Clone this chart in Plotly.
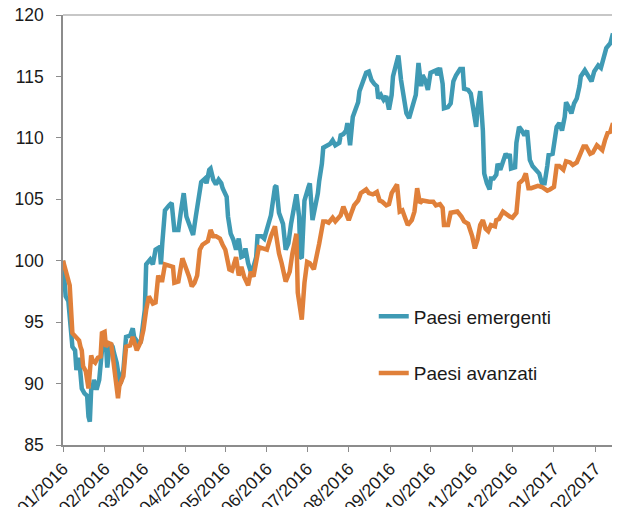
import pandas as pd
import plotly.graph_objects as go

start = pd.Timestamp("2016-01-01")

# days since 01/01/2016 and index level (base 100)
days_em = [0, 2, 4, 6, 7, 9, 10, 12, 13, 14,
           16, 18, 19, 20, 21, 22, 23, 25, 27, 28,
           30, 32, 33, 35, 37, 38, 40, 42, 43, 45,
           47, 50, 52, 53, 56, 58, 61, 62, 65, 67,
           69, 72, 73, 74, 76, 79, 81, 83, 86, 88,
           90, 92, 94, 96, 97, 99, 101, 103, 106, 107,
           109, 110, 112, 114, 116, 118, 119, 122, 123, 125,
           127, 129, 131, 133, 135, 136, 138, 140, 142, 144,
           145, 148, 150, 153, 155, 158, 159, 161, 164, 166,
           168, 170, 174, 176, 177, 178, 180, 183, 184, 186,
           188, 190, 191, 193, 194, 197, 199, 201, 203, 206,
           207, 209, 211, 212, 213, 214, 216, 218, 220, 221,
           223, 226, 228, 230, 232, 234, 235, 237, 239, 241,
           243, 245, 246, 249, 250, 252, 254, 256, 258, 260,
           263, 265, 266, 267, 268, 270, 272, 274, 276, 278,
           279, 281, 283, 284, 287, 289, 291, 293, 296, 298,
           299, 302, 304, 306, 308, 309, 311, 313, 314, 316,
           318, 319, 321, 323, 324, 326, 328, 330, 332, 333,
           334, 337, 338, 340, 342, 344, 346, 347, 348, 350,
           353, 355, 357, 359, 361, 362, 365, 366, 368, 370,
           372, 374, 375, 377, 379, 381, 383, 385, 386, 389,
           391, 394, 396, 399, 401, 403, 405, 408, 410]
emergenti = [100.0, 97.1, 96.7, 93.3, 93.0, 92.7, 91.1, 92.1, 91.1, 89.6,
             89.2, 89.0, 87.3, 86.9, 89.5, 89.6, 90.3, 89.5, 90.3, 91.3,
             93.8, 93.3, 91.3, 93.3, 93.0, 92.5, 91.7, 90.3, 90.0, 91.1,
             93.8, 93.9, 94.5, 93.8, 93.3, 93.4, 96.0, 99.7, 100.1, 99.7,
             100.9, 101.1, 99.7, 101.4, 104.1, 104.5, 104.7, 102.5, 102.5, 104.1,
             105.5, 103.6, 103.0, 102.3, 102.1, 103.6, 104.9, 106.4, 106.7, 106.3,
             107.4, 107.5, 106.6, 106.2, 106.6, 106.3, 105.9, 105.2, 103.6, 102.2,
             101.7, 100.9, 101.8, 100.3, 100.4, 101.0, 99.8, 99.1, 99.5, 100.3,
             102.0, 102.0, 101.8, 103.0, 103.7, 106.0, 106.1, 103.9, 103.0, 100.9,
             101.4, 103.0, 105.4, 103.6, 100.3, 100.2, 104.9, 106.0, 106.3, 103.3,
             104.3, 105.5, 106.5, 107.9, 109.2, 109.4, 109.5, 109.8, 109.4, 109.6,
             110.2, 110.3, 110.6, 111.2, 110.3, 109.4, 111.7, 112.3, 112.9, 113.8,
             114.4, 115.3, 115.4, 114.7, 114.4, 114.2, 113.2, 113.5, 113.1, 113.4,
             112.3, 113.5, 115.0, 116.6, 116.7, 114.7, 113.1, 112.0, 111.6, 112.5,
             113.5, 116.1, 115.3, 114.2, 115.1, 114.7, 113.9, 115.3, 115.4, 115.5,
             115.1, 115.7, 114.4, 112.4, 112.5, 112.8, 114.6, 115.1, 115.6, 115.6,
             114.0, 113.9, 113.6, 112.3, 110.9, 112.3, 113.8, 110.6, 107.1, 106.3,
             105.8, 106.7, 106.7, 107.0, 107.9, 107.4, 108.2, 108.7, 108.4, 108.7,
             107.5, 107.6, 109.6, 110.9, 110.6, 110.2, 110.6, 109.3, 108.2, 107.7,
             107.3, 107.1, 106.3, 106.3, 107.7, 108.6, 108.7, 109.3, 110.9, 111.2,
             110.6, 111.7, 112.9, 112.5, 112.0, 112.8, 113.2, 114.2, 115.0, 115.5,
             115.2, 114.6, 115.4, 115.9, 115.7, 116.5, 117.3, 117.7, 118.5]

days_av = [0, 4, 5, 7, 10, 12, 13, 14, 15, 17,
           19, 21, 22, 24, 26, 28, 29, 31, 32, 34,
           36, 37, 39, 41, 42, 45, 47, 50, 52, 55,
           58, 60, 62, 64, 67, 69, 71, 72, 74, 76,
           79, 82, 83, 86, 89, 92, 94, 96, 98, 100,
           102, 104, 108, 110, 112, 114, 117, 119, 121, 124,
           126, 129, 131, 133, 135, 138, 140, 142, 144, 146,
           149, 152, 155, 158, 159, 161, 163, 166, 169, 171,
           174, 175, 178, 180, 182, 184, 187, 189, 191, 194,
           196, 198, 201, 203, 206, 207, 209, 211, 213, 215,
           217, 220, 222, 226, 228, 231, 234, 236, 238, 241,
           243, 245, 247, 249, 251, 253, 255, 257, 260, 262,
           264, 266, 268, 271, 273, 276, 278, 281, 283, 284,
           287, 289, 292, 294, 297, 299, 302, 305, 307, 309,
           311, 313, 315, 317, 319, 322, 323, 325, 328, 330,
           333, 335, 338, 340, 343, 345, 347, 349, 352, 354,
           357, 359, 361, 363, 366, 368, 370, 373, 375, 378,
           380, 383, 385, 388, 390, 393, 395, 398, 400, 402,
           404, 406, 408, 410]
avanzati = [100.0, 98.2, 98.0, 94.1, 93.7, 93.5, 93.0, 92.7, 91.4, 91.0,
            89.6, 92.3, 91.9, 91.7, 92.1, 92.2, 94.1, 94.2, 93.0, 93.3,
            93.2, 92.2, 90.6, 88.8, 89.8, 90.6, 93.0, 93.1, 93.8, 92.7,
            93.4, 94.4, 96.0, 97.1, 96.5, 96.6, 98.8, 98.4, 98.4, 99.7,
            99.6, 99.5, 98.2, 98.3, 100.2, 99.4, 98.7, 97.9, 98.2, 98.8,
            100.9, 101.3, 101.6, 102.5, 102.0, 102.0, 101.8, 101.3, 100.9, 99.3,
            99.2, 100.3, 98.8, 99.5, 98.7, 98.0, 99.1, 98.7, 100.1, 101.1,
            101.0, 100.9, 102.0, 102.8, 102.0, 100.6, 99.8, 98.3, 99.1, 100.6,
            102.2, 97.4, 95.2, 98.2, 99.9, 99.8, 99.3, 100.6, 101.4, 103.2,
            103.2, 103.1, 103.5, 103.2, 103.5, 103.7, 104.4, 103.7, 103.3, 103.9,
            104.5, 104.9, 105.5, 105.8, 105.5, 105.4, 105.6, 104.9, 104.8, 104.5,
            104.6, 105.5, 105.8, 106.2, 104.0, 104.1, 103.5, 102.9, 103.3, 104.0,
            105.9, 104.7, 104.9, 104.8, 104.8, 104.8, 104.5, 104.6, 104.3, 102.9,
            102.9, 103.9, 104.0, 104.0, 103.6, 103.2, 103.0, 102.0, 101.0, 101.7,
            102.9, 103.3, 102.6, 102.4, 102.9, 102.8, 103.3, 103.4, 104.0, 103.8,
            103.6, 103.5, 103.9, 106.3, 106.6, 107.1, 105.9, 105.9, 106.0, 106.1,
            106.0, 105.8, 105.7, 105.8, 106.0, 107.7, 107.7, 107.4, 108.1, 108.0,
            107.8, 108.0, 108.5, 109.3, 109.3, 108.7, 108.8, 109.4, 109.2, 109.0,
            109.8, 110.4, 110.5, 111.2]

dates_em = start + pd.to_timedelta(days_em, unit="D")
dates_av = start + pd.to_timedelta(days_av, unit="D")

blue = "#3f9ab4"
orange = "#e0803a"
grey = "#8c8c8c"
light_grey = "#b5b5b5"

fig = go.Figure()
fig.add_trace(go.Scatter(x=dates_em, y=emergenti, mode="lines", name="Paesi emergenti",
                         legendgroup="em", line=dict(color=blue, width=4.5)))
fig.add_trace(go.Scatter(x=dates_av, y=avanzati, mode="lines", name="Paesi avanzati",
                         legendgroup="av", line=dict(color=orange, width=4.5)))

# frame on top and right side, lighter than the axes
fig.add_shape(type="line", xref="paper", yref="paper", x0=0, x1=1, y0=1, y1=1,
              line=dict(color=light_grey, width=1.5))
fig.add_shape(type="line", xref="paper", yref="paper", x0=1, x1=1, y0=0, y1=1,
              line=dict(color=light_grey, width=1.5))

# the page body adds 8px on the top/left, margins compensate for it
fig.update_layout(
    width=620, height=507,
    margin=dict(l=55, r=15, t=7, b=70),
    plot_bgcolor="white", paper_bgcolor="white",
    font=dict(family="Liberation Sans, Arial, sans-serif", size=17.5, color="#1a1a1a"),
    legend=dict(x=0.565, y=0.343, xanchor="left", yanchor="top",
                bgcolor="rgba(0,0,0,0)", traceorder="grouped", tracegroupgap=29,
                font=dict(size=19)),
)
fig.update_xaxes(
    type="date", range=["2016-01-01", "2017-02-14"],
    tick0="2016-01-01", dtick="M1", tickformat="%m/%Y", tickangle=-45,
    ticks="outside", ticklen=5, tickcolor=grey, showgrid=False,
    showline=True, linecolor=grey, linewidth=1.5, automargin=False,
    ticklabeloverflow="allow",
)
fig.update_yaxes(
    range=[85, 120], dtick=5,
    ticks="outside", ticklen=5, tickcolor=grey, showgrid=False, zeroline=False,
    showline=True, linecolor=grey, linewidth=1.5, automargin=False,
    ticklabelstandoff=9, ticklabeloverflow="allow",
)

fig.write_html("out.html")
